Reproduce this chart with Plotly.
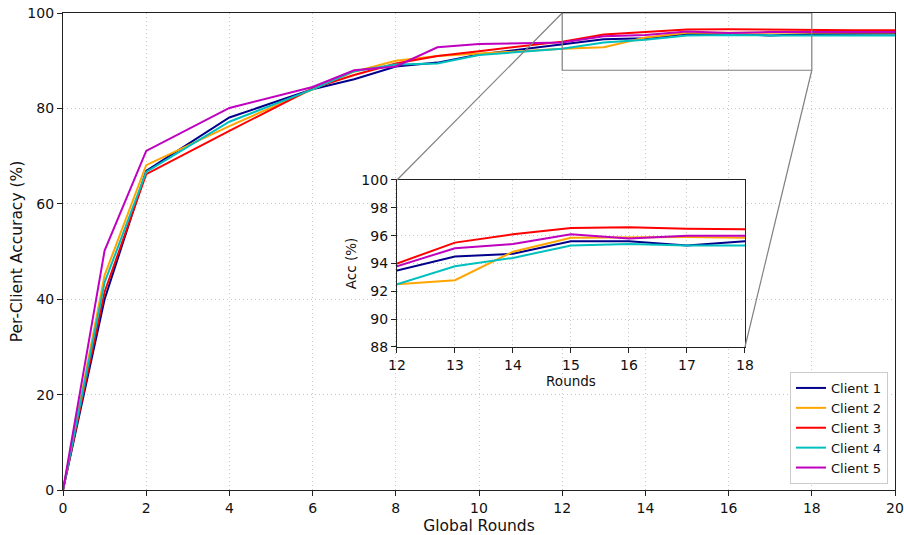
import plotly.graph_objects as go

rounds = [0, 1, 2, 4, 6, 7, 8, 9, 10, 12, 13, 14, 15, 16, 17, 18, 19, 20]
client1 = [0, 40.0, 66.9, 78.1, 84.0, 86.1, 88.8, 89.6, 91.3, 93.5, 94.5, 94.7, 95.6, 95.6, 95.3, 95.6, 95.7, 95.7]
client2 = [0, 45.0, 68.1, 76.3, 84.0, 87.7, 90.0, 91.0, 91.5, 92.5, 92.8, 94.85, 95.85, 95.9, 95.9, 95.85, 95.9, 95.9]
client3 = [0, 41.5, 66.2, 75.3, 84.2, 87.0, 89.4, 91.0, 92.0, 94.0, 95.5, 96.1, 96.55, 96.6, 96.5, 96.4, 96.4, 96.4]
client4 = [0, 43.5, 66.7, 77.2, 84.0, 87.8, 89.2, 89.4, 91.2, 92.5, 93.8, 94.4, 95.3, 95.4, 95.3, 95.3, 95.3, 95.3]
client5 = [0, 50.2, 71.1, 80.1, 84.5, 88.0, 88.8, 92.8, 93.5, 93.8, 95.1, 95.4, 96.1, 95.8, 96.0, 96.0, 96.0, 96.0]

names = ["Client 1", "Client 2", "Client 3", "Client 4", "Client 5"]
series = [client1, client2, client3, client4, client5]
colors = ["#00008B", "#FFA500", "#FF0000", "#00BFBF", "#BF00BF"]

main_x_range = [0, 20]
main_y_range = [0, 100]
zoom_x = [12, 18]
zoom_y = [88, 100]

FONT = "DejaVu Sans"
fig = go.Figure()
for name, ys, c in zip(names, series, colors):
    fig.add_trace(go.Scatter(x=rounds, y=ys, name=name, mode="lines",
                             line=dict(color=c, width=2), xaxis="x", yaxis="y"))
for name, ys, c in zip(names, series, colors):
    fig.add_trace(go.Scatter(x=rounds, y=ys, name=name, mode="lines", showlegend=False,
                             line=dict(color=c, width=2), xaxis="x2", yaxis="y2"))

inset_dx = [0.4014, 0.8197]
inset_dy = [0.2998, 0.6499]

def axis_common(size):
    return dict(showgrid=True, griddash="1px,3px", gridcolor="#c8c8c8", gridwidth=1,
                ticks="outside", ticklen=5, tickcolor="#222", showline=True, mirror=True,
                linecolor="#222", linewidth=1.2, zeroline=False, automargin=False,
                tickfont=dict(family=FONT, size=size, color="#111"))

fig.update_layout(
    width=904, height=535,
    margin=dict(l=63, r=9, t=13, b=45, autoexpand=False),
    paper_bgcolor="white", plot_bgcolor="white",
    font=dict(family=FONT, color="#111"),
    xaxis=dict(domain=[0, 1], range=main_x_range, dtick=2, tick0=0, anchor="y",
               title=dict(text="Global Rounds", font=dict(family=FONT, size=15.5), standoff=8),
               **axis_common(14)),
    yaxis=dict(domain=[0, 1], range=main_y_range, dtick=20, tick0=0, anchor="x",
               title=dict(text="Per-Client Accuracy (%)", font=dict(family=FONT, size=15.5), standoff=0),
               **axis_common(14)),
    xaxis2=dict(domain=inset_dx, range=zoom_x, dtick=1, tick0=12, anchor="y2",
                title=dict(text="Rounds", font=dict(family=FONT, size=13.5), standoff=4),
                **axis_common(14)),
    yaxis2=dict(domain=inset_dy, range=zoom_y, dtick=2, tick0=88, anchor="x2",
                title=dict(text="Acc (%)", font=dict(family=FONT, size=13.5), standoff=1),
                **axis_common(14)),
    legend=dict(x=0.9916, y=0.0126, xanchor="right", yanchor="bottom",
                bgcolor="white", bordercolor="#cccccc", borderwidth=1,
                font=dict(family=FONT, size=13), tracegroupgap=0, itemwidth=30),
)

# zoom indicator rectangle in main axes
fig.add_shape(type="rect", xref="x", yref="y", x0=zoom_x[0], x1=zoom_x[1], y0=zoom_y[0], y1=zoom_y[1],
              line=dict(color="#808080", width=1.2), layer="above")
# connector lines (paper coords derived from main axis ranges)
def px(v):
    return (v - main_x_range[0]) / (main_x_range[1] - main_x_range[0])
def py(v):
    return (v - main_y_range[0]) / (main_y_range[1] - main_y_range[0])

fig.add_shape(type="line", xref="paper", yref="paper", x0=px(zoom_x[0]), y0=py(zoom_y[1]),
              x1=inset_dx[0], y1=inset_dy[1], line=dict(color="#808080", width=1.2), layer="above")
fig.add_shape(type="line", xref="paper", yref="paper", x0=px(zoom_x[1]), y0=py(zoom_y[0]),
              x1=inset_dx[1], y1=inset_dy[0], line=dict(color="#808080", width=1.2), layer="above")

fig.write_html("out.html", config={"displayModeBar": False},
               post_script="document.body.style.margin='0px';document.body.style.padding='0px';document.body.style.overflow='hidden';")
